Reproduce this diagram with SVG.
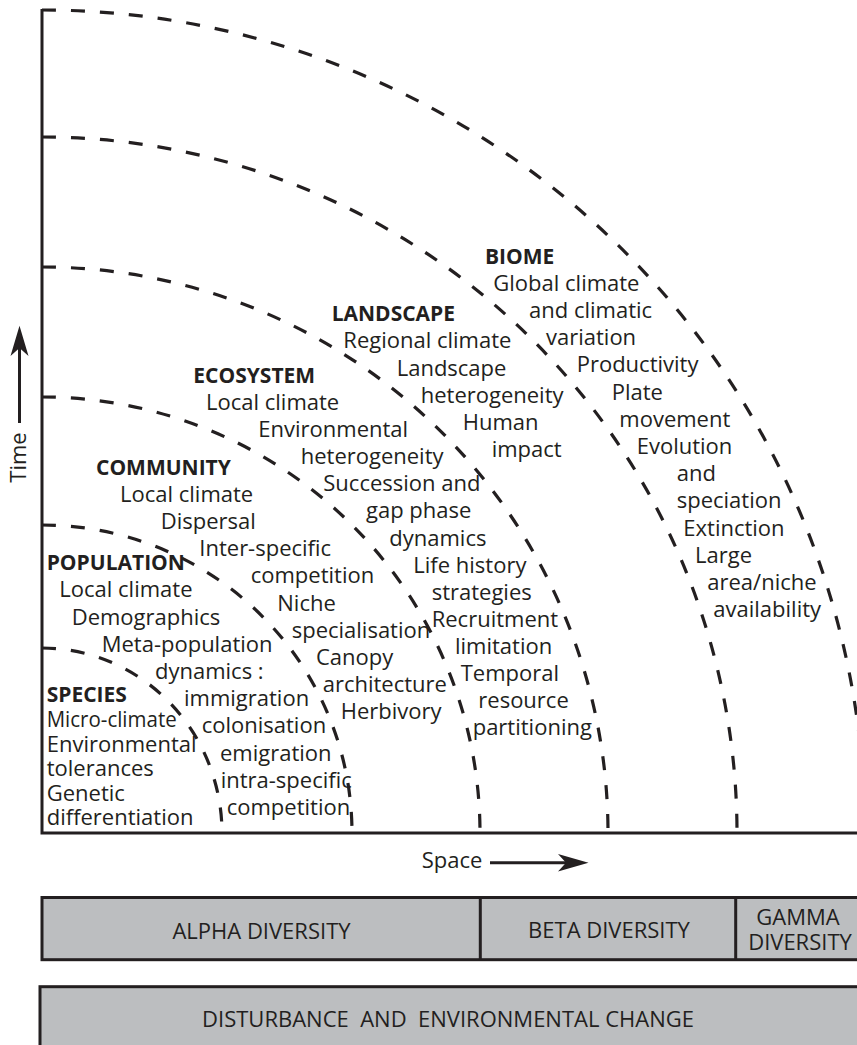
<svg xmlns="http://www.w3.org/2000/svg" width="857" height="1045" viewBox="0 0 857 1045">
<style>
text{font-family:"Open Sans","Noto Sans","Liberation Sans",sans-serif;font-size:22px;fill:#231f20}
.h{font-weight:bold;font-size:21px}
.c{text-anchor:middle}
.arc{fill:none;stroke:#231f20;stroke-width:3.2;stroke-dasharray:14 15}
.ax{fill:none;stroke:#231f20;stroke-width:3}
.box{fill:#bcbec0;stroke:#231f20;stroke-width:3}
</style>
<rect width="857" height="1045" fill="#fff"/>
<g id="connectors">
<path class="arc" d="M42 648 A180 185 0 0 1 222 833"/>
<path class="arc" d="M42 525 A310 308 0 0 1 352 833"/>
<path class="arc" d="M42 397 A438 436 0 0 1 480 833"/>
<path class="arc" d="M42 267 A566 566 0 0 1 608 833"/>
<path class="arc" d="M42 137 A695 696 0 0 1 737 833"/>
<path class="arc" d="M42 10 A823 823 0 0 1 865 833"/>
</g>
<g id="axes">
<path class="ax" d="M42 9 V833 H857"/>
<path class="ax" d="M19.5 423 V345"/>
<path d="M19.5 325.7 L28.5 356 L19.5 348 L10.5 356 Z" fill="#231f20"/>
<text transform="translate(26,457.5) rotate(-90)" class="c">Time</text>
<path class="ax" d="M490 862.7 H570"/>
<path d="M588.5 862.7 L558 871.5 L566 862.7 L558 854 Z" fill="#231f20"/>
<text x="421.7" y="868.3">Space</text>
</g>
<g id="species">
<text class="h" x="46.7" y="701.7">SPECIES</text>
<text x="46.7" y="727" textLength="130" lengthAdjust="spacingAndGlyphs">Micro-climate</text>
<text x="46.7" y="751.5">Environmental</text>
<text x="46.7" y="776">tolerances</text>
<text x="46.7" y="800.5">Genetic</text>
<text x="46.7" y="825">differentiation</text>
</g>
<g id="population">
<text class="h" x="46.7" y="570">POPULATION</text>
<text x="59.3" y="597.4">Local climate</text>
<text x="71.7" y="624.6">Demographics</text>
<text x="101.7" y="651.8">Meta-population</text>
<text x="155" y="679">dynamics :</text>
<text x="184" y="706.2">immigration</text>
<text x="201.7" y="733.4">colonisation</text>
<text x="220" y="760.6">emigration</text>
<text x="220.7" y="787.8">intra-specific</text>
<text x="226.7" y="815">competition</text>
</g>
<g id="community">
<text class="h" x="96" y="474.5">COMMUNITY</text>
<text x="120" y="501.7">Local climate</text>
<text x="160.7" y="528.9">Dispersal</text>
<text x="199.3" y="556.1">Inter-specific</text>
<text x="250.7" y="583.3">competition</text>
<text x="277.3" y="610.5">Niche</text>
<text x="291.7" y="637.7">specialisation</text>
<text x="316" y="664.9">Canopy</text>
<text x="322.7" y="692.1">architecture</text>
<text x="340.7" y="719.3">Herbivory</text>
</g>
<g id="ecosystem">
<text class="h" x="193.3" y="382.8">ECOSYSTEM</text>
<text x="206" y="410">Local climate</text>
<text x="258.3" y="437.1">Environmental</text>
<text x="300.7" y="464.2">heterogeneity</text>
<text x="323.3" y="491.3">Succession and</text>
<text x="366" y="518.4">gap phase</text>
<text x="389.3" y="545.5">dynamics</text>
<text x="413.3" y="572.6">Life history</text>
<text x="431.7" y="599.7">strategies</text>
<text x="431.7" y="626.8">Recruitment</text>
<text x="455" y="653.9">limitation</text>
<text x="460.7" y="681">Temporal</text>
<text x="478.3" y="708.1">resource</text>
<text x="472.7" y="735.2">partitioning</text>
</g>
<g id="landscape">
<text class="h" x="331.7" y="321.1">LANDSCAPE</text>
<text x="343.3" y="348.3">Regional climate</text>
<text x="396.7" y="375.5">Landscape</text>
<text x="420.7" y="402.7">heterogeneity</text>
<text x="462.7" y="429.9">Human</text>
<text x="491.7" y="457.1">impact</text>
</g>
<g id="biome">
<text class="h" x="485" y="263.5">BIOME</text>
<text x="493.3" y="290.7">Global climate</text>
<text x="529" y="317.9">and climatic</text>
<text x="546" y="345.1">variation</text>
<text x="576.7" y="372.3">Productivity</text>
<text x="611.7" y="399.5">Plate</text>
<text x="619.3" y="426.7">movement</text>
<text x="636.7" y="453.9">Evolution</text>
<text x="676.7" y="481.1">and</text>
<text x="676.7" y="508.3">speciation</text>
<text x="683.3" y="535.5">Extinction</text>
<text x="695" y="562.7">Large</text>
<text x="707.3" y="589.9">area/niche</text>
<text x="713.3" y="617.1">availability</text>
</g>
<g id="diversity-bar">
<rect class="box" x="42" y="897.5" width="820" height="62.2"/>
<path class="ax" d="M480.3 897.5 V959.7 M735.7 897.5 V959.7"/>
<text class="c" x="261.5" y="939">ALPHA DIVERSITY</text>
<text class="c" x="609" y="938.3">BETA DIVERSITY</text>
<text class="c" x="798" y="925">GAMMA</text>
<text class="c" x="800" y="950">DIVERSITY</text>
</g>
<g id="disturbance-bar">
<rect class="box" x="40" y="986.7" width="822" height="70"/>
<text class="c" x="448" y="1026.7" xml:space="preserve">DISTURBANCE  AND  ENVIRONMENTAL CHANGE</text>
</g>
</svg>
